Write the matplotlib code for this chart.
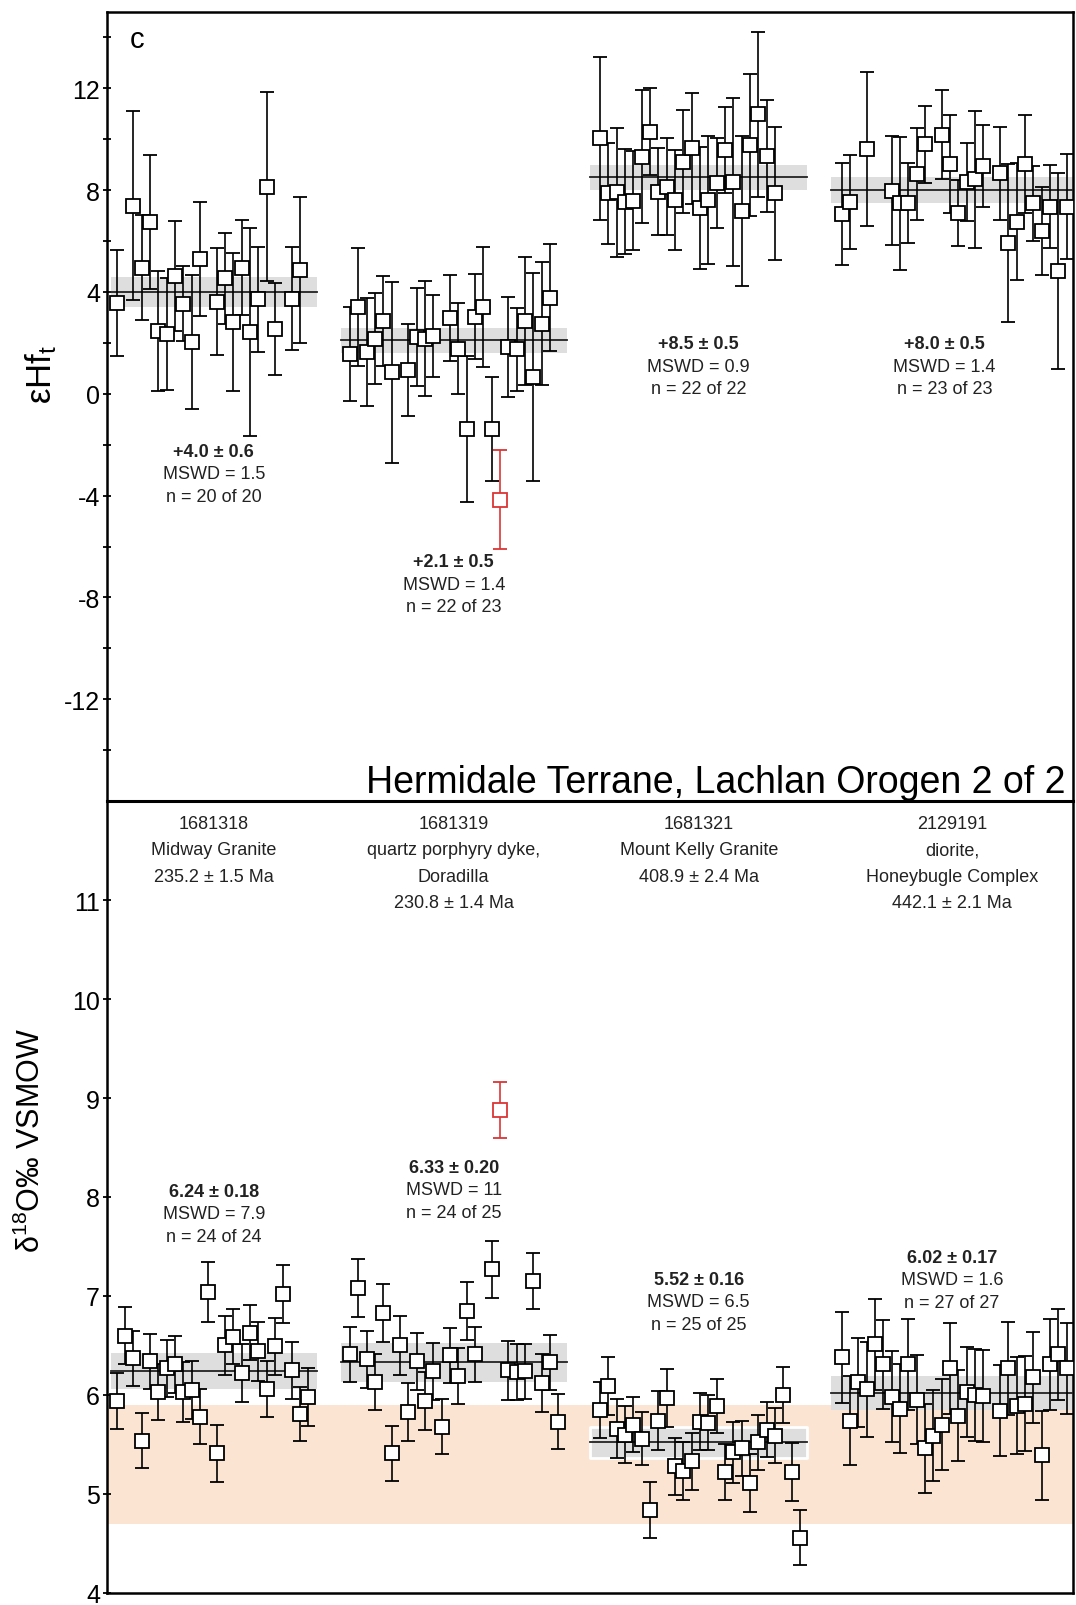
import numpy as np
import matplotlib
matplotlib.use("Agg")
import matplotlib.pyplot as plt

plt.rcParams['font.family'] = ['Liberation Sans', 'DejaVu Sans']
plt.rcParams['mathtext.default'] = 'regular'
plt.rcParams['axes.unicode_minus'] = False

# ---- data ----
# x = analysis slot index along the plot (gaps = skipped slots)
hf_start = [0, 28, 58, 87]
hf_slots = [
    [0, 2, 3, 4, 5, 6, 7, 8, 9, 10, 12, 13, 14, 15, 16, 17, 18, 19, 21, 22],
    [0, 1, 2, 3, 4, 5, 7, 8, 9, 10, 12, 13, 14, 15, 16, 17, 18, 19, 20, 21, 22, 23, 24],
    list(range(22)),
    [0, 1, 3, 6, 7, 8, 9, 10, 12, 13, 14, 15, 16, 17, 19, 20, 21, 22, 23, 24, 25, 26, 27],
]
hf_vals = [
    [3.58, 7.39, 4.95, 6.76, 2.47, 2.36, 4.63, 3.54, 2.03, 5.31, 3.61, 4.53, 2.82, 4.95,
     2.43, 3.71, 8.14, 2.53, 3.74, 4.86],
    [1.57, 3.41, 1.64, 2.17, 2.85, 0.85, 0.94, 2.23, 2.17, 2.27, 2.98, 1.77, -1.38, 3.02,
     3.41, -1.38, -4.16, 1.84, 1.75, 2.85, 0.66, 2.76, 3.78],
    [10.04, 7.87, 7.91, 7.55, 7.59, 9.32, 10.3, 7.94, 8.14, 7.61, 9.12, 9.65, 7.31, 7.61,
     8.27, 9.58, 8.33, 7.19, 9.78, 10.98, 9.34, 7.87],
    [7.05, 7.52, 9.62, 7.97, 7.48, 7.48, 8.64, 9.8, 10.17, 9.03, 7.11, 8.33, 8.42, 8.95,
     8.66, 5.91, 6.76, 9.03, 7.48, 6.4, 7.35, 4.82, 7.35],
]
hf_errs = [
    [2.08, 3.71, 2.07, 2.64, 2.35, 2.2, 2.17, 1.48, 2.63, 2.24, 2.1, 1.77, 2.72, 1.87,
     4.07, 2.07, 3.72, 1.81, 2.01, 2.86],
    [1.85, 2.3, 2.12, 1.78, 1.77, 3.55, 1.8, 1.92, 2.27, 1.62, 1.68, 1.79, 2.87, 1.67,
     2.36, 2.04, 1.95, 1.97, 1.64, 2.52, 4.07, 2.43, 2.1],
    [3.2, 1.97, 2.55, 2.05, 1.95, 2.6, 1.7, 1.7, 1.9, 1.97, 2.03, 2.18, 2.4, 2.5, 1.77,
     1.7, 3.3, 2.95, 2.8, 3.25, 2.2, 2.6],
    [2.0, 1.85, 3.04, 2.14, 2.6, 1.57, 1.8, 1.5, 1.75, 1.93, 1.3, 1.53, 2.7, 1.63, 1.84,
     3.1, 2.3, 1.93, 1.47, 1.73, 1.63, 3.85, 2.07],
]
hf_rejected = [[], [16], [], []]
hf_mean = [4.0, 2.1, 8.5, 8.0]
hf_mean_err = [0.6, 0.5, 0.5, 0.5]
hf_mswd = ['1.5', '1.4', '0.9', '1.4']
hf_n = ['20 of 20', '22 of 23', '22 of 22', '23 of 23']

o_slots = [
    list(range(24)),
    list(range(16)) + list(range(17, 26)),
    list(range(25)),
    list(range(18)) + list(range(19, 28)),
]
o_vals = [
    [5.94, 6.6, 6.37, 5.54, 6.34, 6.03, 6.27, 6.31, 6.03, 6.05, 5.78, 7.04, 5.41, 6.5,
     6.59, 6.22, 6.63, 6.44, 6.06, 6.49, 7.02, 6.25, 5.81, 5.98],
    [6.41, 7.08, 6.36, 6.13, 6.83, 5.41, 6.5, 5.83, 6.34, 5.94, 6.24, 5.68, 6.4, 6.19,
     6.85, 6.41, 7.27, 8.88, 6.25, 6.23, 6.24, 7.15, 6.12, 6.33, 5.73],
    [5.85, 6.09, 5.66, 5.6, 5.7, 5.56, 4.84, 5.74, 5.97, 5.28, 5.23, 5.33, 5.73, 5.72,
     5.89, 5.22, 5.42, 5.46, 5.11, 5.52, 5.65, 5.59, 6.0, 5.22, 4.56],
    [6.38, 5.74, 6.13, 6.06, 6.51, 6.31, 5.98, 5.86, 6.31, 5.95, 5.46, 5.59, 5.7, 6.27,
     5.79, 6.03, 6.0, 5.99, 5.84, 6.27, 5.89, 5.91, 6.18, 5.39, 6.31, 6.41, 6.27],
]
o_errs = [
    [0.28, 0.29, 0.28, 0.28, 0.28, 0.28, 0.29, 0.29, 0.3, 0.29, 0.28, 0.3, 0.29, 0.3,
     0.28, 0.29, 0.28, 0.3, 0.28, 0.29, 0.29, 0.29, 0.27, 0.29],
    [0.28, 0.29, 0.29, 0.28, 0.29, 0.28, 0.3, 0.29, 0.29, 0.29, 0.29, 0.28, 0.28, 0.28,
     0.29, 0.28, 0.29, 0.28, 0.3, 0.28, 0.28, 0.28, 0.29, 0.28, 0.28],
    [0.28, 0.29, 0.3, 0.29, 0.28, 0.27, 0.28, 0.3, 0.29, 0.29, 0.29, 0.29, 0.29, 0.28,
     0.27, 0.28, 0.31, 0.28, 0.29, 0.28, 0.28, 0.28, 0.28, 0.29, 0.28],
    [0.46, 0.45, 0.45, 0.48, 0.46, 0.45, 0.46, 0.45, 0.46, 0.45, 0.45, 0.46, 0.46, 0.46,
     0.46, 0.45, 0.46, 0.46, 0.46, 0.47, 0.49, 0.48, 0.46, 0.45, 0.46, 0.46, 0.46],
]
o_rejected = [[], [17], [], []]
o_mean = [6.24, 6.33, 5.52, 6.02]
o_mean_err = [0.18, 0.20, 0.16, 0.17]
o_mswd = ['7.9', '11', '6.5', '1.6']
o_n = ['24 of 24', '24 of 25', '25 of 25', '27 of 27']
mantle_band = (4.7, 5.9)

samples = [
    ['1681318', 'Midway Granite', '235.2 ± 1.5 Ma'],
    ['1681319', 'quartz porphyry dyke,', 'Doradilla', '230.8 ± 1.4 Ma'],
    ['1681321', 'Mount Kelly Granite', '408.9 ± 2.4 Ma'],
    ['2129191', 'diorite,', 'Honeybugle Complex', '442.1 ± 2.1 Ma'],
]

# ---- layout ----
line_span = [(-0.7, 24.0), (26.9, 54.0), (56.8, 82.9), (85.7, 114.8)]
hf_text_y = [-2.25, -6.6, 1.97, 1.97]
o_text_y = [8.06, 8.30, 7.17, 7.39]
RED = '#dc3535'

fig = plt.figure(figsize=(10.76, 16.06), dpi=100)
ax1 = fig.add_axes([0.0994, 0.5006, 0.8978, 0.4913])
ax2 = fig.add_axes([0.0994, 0.0075, 0.8978, 0.4931])


def draw_group(ax, x, v, e, rej, mean, merr, span, band_edge='none'):
    ax.fill_between(span, mean - merr, mean + merr, color='#dedede',
                    edgecolor=band_edge, linewidth=2, zorder=2)
    ax.plot(span, [mean, mean], color='#222222', lw=1.3, zorder=3)
    x = np.asarray(x); v = np.asarray(v); e = np.asarray(e)
    keep = np.ones(len(v), bool)
    keep[rej] = False
    for m, c in ((keep, 'black'), (~keep, RED)):
        if m.any():
            ax.errorbar(x[m], v[m], yerr=e[m], fmt='s', ms=9.5, mfc='white', mec=c,
                        mew=1.3, ecolor=c, elinewidth=1.2, capsize=5, capthick=1.2,
                        zorder=4)


def stats(ax, x, y, lines):
    for k, s in enumerate(lines):
        ax.annotate(s, (x, y), xytext=(0, -16.2 * k), textcoords='offset points',
                    ha='center', va='center', fontsize=13,
                    fontweight='bold' if k == 0 else 'normal', color='#222222')


for i in range(4):
    xs = [hf_start[i] + s for s in hf_slots[i]]
    draw_group(ax1, xs, hf_vals[i], hf_errs[i], hf_rejected[i], hf_mean[i],
               hf_mean_err[i], line_span[i])
    cx = (line_span[i][0] + min(line_span[i][1], 113)) / 2
    stats(ax1, cx, hf_text_y[i],
          ['+%.1f ± %.1f' % (hf_mean[i], hf_mean_err[i]), 'MSWD = ' + hf_mswd[i],
           'n = ' + hf_n[i]])

ax2.axhspan(*mantle_band, color='#fce4d2', lw=0, zorder=1)
for i in range(4):
    xs = [hf_start[i] + s for s in o_slots[i]]
    draw_group(ax2, xs, o_vals[i], o_errs[i], o_rejected[i], o_mean[i], o_mean_err[i],
               line_span[i], band_edge='white' if i == 2 else 'none')
    cx = (line_span[i][0] + min(line_span[i][1], 115.5)) / 2
    stats(ax2, cx, o_text_y[i],
          ['%.2f ± %.2f' % (o_mean[i], o_mean_err[i]), 'MSWD = ' + o_mswd[i],
           'n = ' + o_n[i]])
    ax2.text(cx, 11.86, '\n'.join(samples[i]), ha='center', va='top', fontsize=13,
             linespacing=1.72, color='#222222')

for ax in (ax1, ax2):
    ax.set_xlim(-1.16, 114.76)
    ax.set_xticks([])
    for sp in ax.spines.values():
        sp.set_linewidth(1.8)
    ax.tick_params(axis='y', which='both', direction='inout', length=6, width=1.3,
                   labelsize=18, pad=2)

ax1.set_ylim(-16, 15)
ax1.set_yticks([-12, -8, -4, 0, 4, 8, 12])
ax1.set_yticks(np.arange(-14, 15, 4), minor=True)
ax2.set_ylim(4, 12)
ax2.set_yticks(range(4, 12))
ax2.spines['top'].set_linewidth(2.2)

ax1.text(0.031, 0.966, 'c', transform=ax1.transAxes, fontsize=21, ha='center',
         va='center')
ax1.text(0.992, 0.012, 'Hermidale Terrane, Lachlan Orogen 2 of 2', transform=ax1.transAxes,
         ha='right', va='baseline', fontsize=27)

fig.text(0.038, 0.767, r'εHf$_{t}$', rotation=90, ha='center', va='center', fontsize=25)
fig.text(0.029, 0.29, r'δ$^{18}$O‰ VSMOW', rotation=90, ha='center', va='center',
         fontsize=22)

fig.savefig('out.png', dpi=100)
